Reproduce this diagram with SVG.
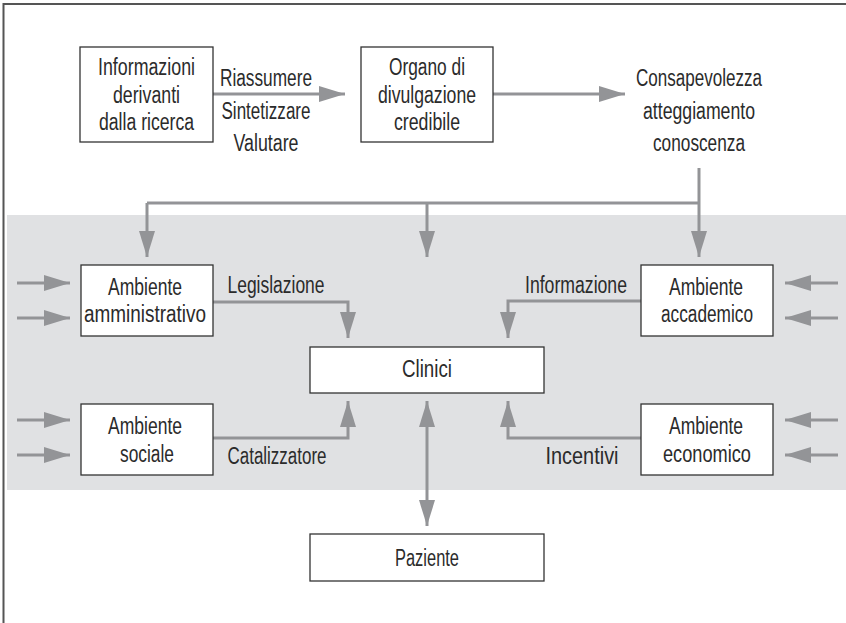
<svg xmlns="http://www.w3.org/2000/svg" width="846" height="623" viewBox="0 0 846 623">
<defs>
<style>
.t{font-family:"Liberation Sans",Arial,sans-serif;font-size:23px;fill:#2b2b2b;text-anchor:middle}
.box{fill:#fff;stroke:#333;stroke-width:1.3}
.c{fill:none;stroke:#939497;stroke-width:3}
</style>
<marker id="ah" viewBox="0 0 26 16" refX="26" refY="8" markerWidth="26" markerHeight="16" markerUnits="userSpaceOnUse" orient="auto-start-reverse">
<path d="M0,0 L26,8 L0,16 Z" fill="#939497"/>
</marker>
</defs>
<rect x="0" y="0" width="846" height="623" fill="#fff"/>
<path d="M3.5,623 V4 H846" fill="none" stroke="#555" stroke-width="2"/>
<rect x="7" y="215" width="839" height="275" fill="#e0e1e3"/>

<g id="connectors">
<line class="c" x1="213" y1="94" x2="345" y2="94" marker-end="url(#ah)"/>
<line class="c" x1="493" y1="94" x2="625" y2="94" marker-end="url(#ah)"/>
<polyline class="c" points="699,168 699,203"/>
<polyline class="c" points="147,203 699,203"/>
<line class="c" x1="147" y1="203" x2="147" y2="257" marker-end="url(#ah)"/>
<line class="c" x1="427" y1="203" x2="427" y2="257" marker-end="url(#ah)"/>
<line class="c" x1="699" y1="203" x2="699" y2="257" marker-end="url(#ah)"/>
<polyline class="c" points="213,302 348,302 348,338" marker-end="url(#ah)"/>
<polyline class="c" points="641,301 508,301 508,338" marker-end="url(#ah)"/>
<polyline class="c" points="213,438 348,438 348,401" marker-end="url(#ah)"/>
<polyline class="c" points="641,438 508,438 508,401" marker-end="url(#ah)"/>
<line class="c" x1="427" y1="401" x2="427" y2="526" marker-start="url(#ah)" marker-end="url(#ah)"/>
<line class="c" x1="17" y1="283" x2="70" y2="283" marker-end="url(#ah)"/>
<line class="c" x1="17" y1="318" x2="70" y2="318" marker-end="url(#ah)"/>
<line class="c" x1="17" y1="420" x2="70" y2="420" marker-end="url(#ah)"/>
<line class="c" x1="17" y1="455" x2="70" y2="455" marker-end="url(#ah)"/>
<line class="c" x1="838" y1="283" x2="785" y2="283" marker-end="url(#ah)"/>
<line class="c" x1="838" y1="318" x2="785" y2="318" marker-end="url(#ah)"/>
<line class="c" x1="838" y1="420" x2="785" y2="420" marker-end="url(#ah)"/>
<line class="c" x1="838" y1="455" x2="785" y2="455" marker-end="url(#ah)"/>
</g>

<g id="labels">
<text class="t" x="266" y="86" textLength="92" lengthAdjust="spacingAndGlyphs">Riassumere</text>
<text class="t" x="266" y="119" textLength="89" lengthAdjust="spacingAndGlyphs">Sintetizzare</text>
<text class="t" x="266" y="151" textLength="65" lengthAdjust="spacingAndGlyphs">Valutare</text>
<text class="t" x="276" y="293" textLength="97" lengthAdjust="spacingAndGlyphs">Legislazione</text>
<text class="t" x="576" y="293" textLength="102" lengthAdjust="spacingAndGlyphs">Informazione</text>
<text class="t" x="277" y="464" textLength="99" lengthAdjust="spacingAndGlyphs">Catalizzatore</text>
<text class="t" x="582" y="464" textLength="73" lengthAdjust="spacingAndGlyphs">Incentivi</text>
</g>

<g id="n-informazioni">
<rect class="box" x="80" y="47" width="133" height="95"/>
<text class="t" x="146.5" y="75" textLength="97" lengthAdjust="spacingAndGlyphs">Informazioni</text>
<text class="t" x="146.5" y="103" textLength="67" lengthAdjust="spacingAndGlyphs">derivanti</text>
<text class="t" x="146.5" y="130" textLength="95" lengthAdjust="spacingAndGlyphs">dalla ricerca</text>
</g>
<g id="n-organo">
<rect class="box" x="361" y="47" width="132" height="95"/>
<text class="t" x="427" y="75" textLength="76" lengthAdjust="spacingAndGlyphs">Organo di</text>
<text class="t" x="427" y="103" textLength="98" lengthAdjust="spacingAndGlyphs">divulgazione</text>
<text class="t" x="427" y="130" textLength="66" lengthAdjust="spacingAndGlyphs">credibile</text>
</g>
<g id="n-consapevolezza">
<text class="t" x="699" y="86" textLength="126" lengthAdjust="spacingAndGlyphs">Consapevolezza</text>
<text class="t" x="699" y="119" textLength="112" lengthAdjust="spacingAndGlyphs">atteggiamento</text>
<text class="t" x="699" y="151" textLength="92" lengthAdjust="spacingAndGlyphs">conoscenza</text>
</g>
<g id="n-amministrativo">
<rect class="box" x="81" y="265" width="132" height="71"/>
<text class="t" x="145" y="295" textLength="74" lengthAdjust="spacingAndGlyphs">Ambiente</text>
<text class="t" x="145" y="322" textLength="122" lengthAdjust="spacingAndGlyphs">amministrativo</text>
</g>
<g id="n-accademico">
<rect class="box" x="641" y="265" width="132" height="71"/>
<text class="t" x="706" y="295" textLength="74" lengthAdjust="spacingAndGlyphs">Ambiente</text>
<text class="t" x="707" y="322" textLength="92" lengthAdjust="spacingAndGlyphs">accademico</text>
</g>
<g id="n-clinici">
<rect class="box" x="310" y="347" width="234" height="46"/>
<text class="t" x="427" y="377" textLength="50" lengthAdjust="spacingAndGlyphs">Clinici</text>
</g>
<g id="n-sociale">
<rect class="box" x="81" y="404" width="132" height="71"/>
<text class="t" x="145" y="434" textLength="74" lengthAdjust="spacingAndGlyphs">Ambiente</text>
<text class="t" x="147" y="462" textLength="54" lengthAdjust="spacingAndGlyphs">sociale</text>
</g>
<g id="n-economico">
<rect class="box" x="641" y="404" width="132" height="71"/>
<text class="t" x="706" y="434" textLength="74" lengthAdjust="spacingAndGlyphs">Ambiente</text>
<text class="t" x="707" y="462" textLength="88" lengthAdjust="spacingAndGlyphs">economico</text>
</g>
<g id="n-paziente">
<rect class="box" x="310" y="534" width="234" height="47"/>
<text class="t" x="427" y="566" textLength="64" lengthAdjust="spacingAndGlyphs">Paziente</text>
</g>
</svg>
